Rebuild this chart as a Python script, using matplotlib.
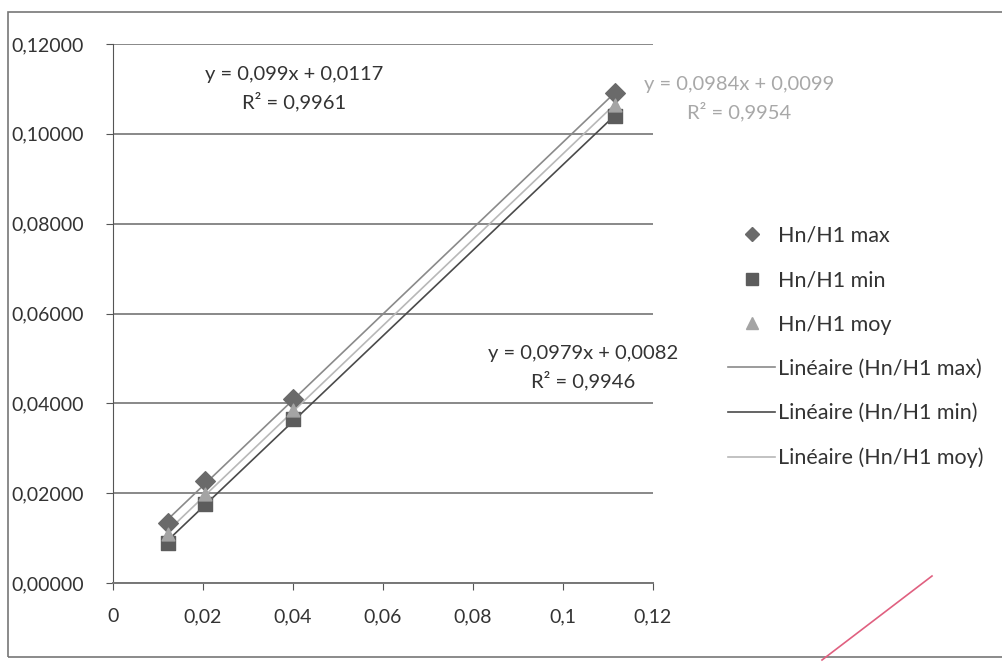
import matplotlib
matplotlib.use("Agg")
import matplotlib.pyplot as plt
import numpy as np
from matplotlib.patches import Rectangle
from matplotlib.lines import Line2D

plt.rcParams['font.family'] = ['Lato', 'DejaVu Sans']

x_vals = [0.0122, 0.0204, 0.0400, 0.1116]
y_max = [0.0134, 0.0227, 0.0410, 0.1091]
y_min = [0.0089, 0.0175, 0.0366, 0.1040]
y_moy = [0.0110, 0.0198, 0.0386, 0.1065]

x_ticks = [0, 0.02, 0.04, 0.06, 0.08, 0.1, 0.12]
x_ticklabels = ['0', '0,02', '0,04', '0,06', '0,08', '0,1', '0,12']
y_ticks = [0, 0.02, 0.04, 0.06, 0.08, 0.10, 0.12]
y_ticklabels = ['0,00000', '0,02000', '0,04000', '0,06000', '0,08000', '0,10000', '0,12000']

eq_max = "y = 0,099x + 0,0117\nR² = 0,9961"
eq_moy = "y = 0,0984x + 0,0099\nR² = 0,9954"
eq_min = "y = 0,0979x + 0,0082\nR² = 0,9946"

fig = plt.figure(figsize=(10.03, 6.67), dpi=100)
ax = fig.add_axes([113/1003, 1-583/667, 540/1003, 539/667])

c_max, c_min, c_moy = '#6a6a6a', '#5c5c5c', '#a4a4a4'
l_max, l_min, l_moy = '#8a8a8a', '#4a4a4a', '#b8b8b8'

xs = np.array(x_vals)
xl = np.array([xs.min(), xs.max()])
for ys, col in [(y_max, l_max), (y_min, l_min), (y_moy, l_moy)]:
    p = np.polyfit(xs, np.array(ys), 1)
    ax.plot(xl, np.polyval(p, xl), color=col, lw=1.2, zorder=2)

ax.scatter(x_vals, y_max, marker='D', s=100, color=c_max, zorder=3)
ax.scatter(x_vals, y_min, marker='s', s=100, color=c_min, zorder=3)
ax.scatter(x_vals, y_moy, marker='^', s=85, color=c_moy, zorder=4)

ax.set_xlim(0, 0.12)
ax.set_ylim(0, 0.12)
ax.set_xticks(x_ticks)
ax.set_xticklabels(x_ticklabels)
ax.set_yticks(y_ticks)
ax.set_yticklabels(y_ticklabels)
ax.tick_params(axis='both', labelsize=14, color='#555555', length=5, direction='out', labelcolor='#333333')
ax.tick_params(axis='x', pad=13)
ax.tick_params(axis='y', pad=16)
ax.grid(axis='y', color='#888888', lw=1.4)
ax.set_axisbelow(True)
for s in ['top', 'right']:
    ax.spines[s].set_visible(False)
ax.spines['left'].set_color('#555555')
ax.spines['bottom'].set_color('#777777')
ax.spines['bottom'].set_linewidth(1.4)

tkw = dict(ha='center', va='center', fontsize=14.5, linespacing=1.5, clip_on=False)
ax.text(0.0402, 0.1100, eq_max, color='#333333', **tkw)
ax.text(0.1391, 0.1078, eq_moy, color='#a8a8a8', **tkw)
ax.text(0.1044, 0.0479, eq_min, color='#333333', **tkw)

handles = [
    Line2D([], [], marker='D', ls='none', color=c_max, markersize=7),
    Line2D([], [], marker='s', ls='none', color=c_min, markersize=8),
    Line2D([], [], marker='^', ls='none', color=c_moy, markersize=8),
    Line2D([], [], color=l_max, lw=1.2),
    Line2D([], [], color=l_min, lw=1.2),
    Line2D([], [], color=l_moy, lw=1.2),
]
labels = ['Hn/H1 max', 'Hn/H1 min', 'Hn/H1 moy',
          'Linéaire (Hn/H1 max)', 'Linéaire (Hn/H1 min)', 'Linéaire (Hn/H1 moy)']
fig.legend(handles, labels, loc='upper left', bbox_to_anchor=(728/1003, 1-226/667),
           frameon=False, fontsize=15.5, labelspacing=1.13, handlelength=2.2,
           handletextpad=0.14, borderpad=0, borderaxespad=0, labelcolor='#333333')

fig.patches.append(Rectangle((8/1003, 10/667), 1.2, 645/667, transform=fig.transFigure,
                             fill=False, edgecolor='#777777', lw=1.2))
fig.add_artist(Line2D([822/1003, 932/1003], [1-660/667, 1-576/667], transform=fig.transFigure,
                      color='#e06080', lw=1.2))

fig.savefig('out.png', dpi=100, facecolor='white')
